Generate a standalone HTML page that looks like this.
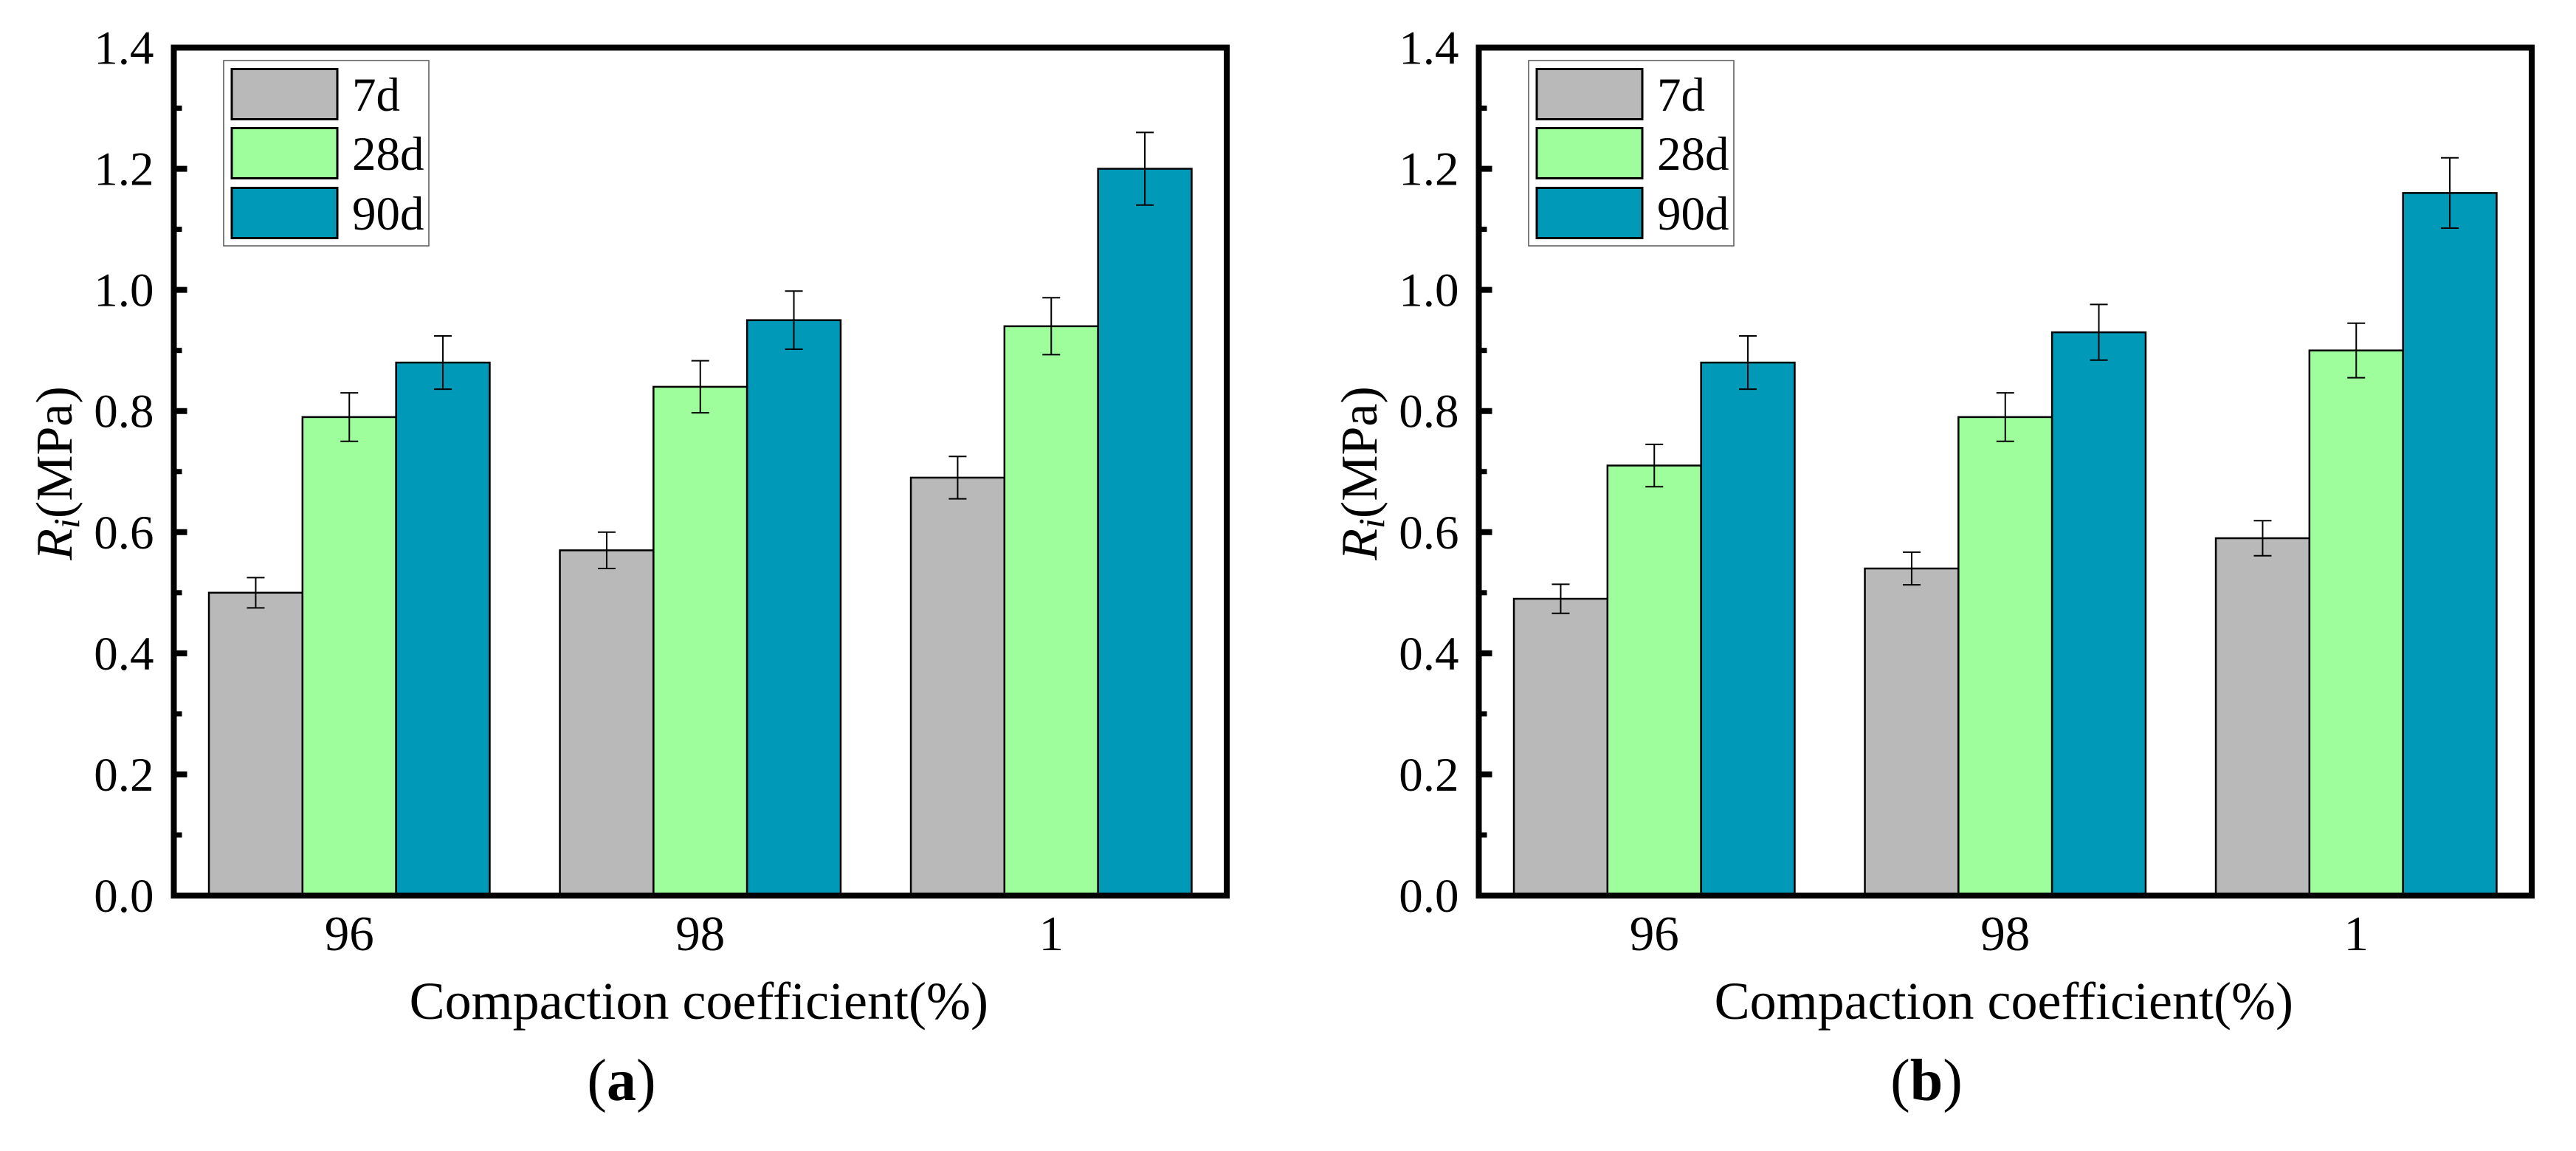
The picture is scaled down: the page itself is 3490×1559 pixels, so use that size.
<!DOCTYPE html>
<html><head><meta charset="utf-8">
<style>
html,body{margin:0;padding:0;background:#fff;}
svg{display:block;}
text{font-family:"Liberation Serif",serif;fill:#000;}
</style></head>
<body>
<svg id="chart" width="3490" height="1559" viewBox="0 0 3490 1559" xmlns="http://www.w3.org/2000/svg"></svg>
<script>
const categories = ["96", "98", "1"];
const seriesNames = ["7d", "28d", "90d"];
const seriesColors = ["#b9b9b9", "#9dfe9b", "#0099b8"];
const yTicks = [0.0, 0.2, 0.4, 0.6, 0.8, 1.0, 1.2, 1.4];
const yTickLabels = ["0.0", "0.2", "0.4", "0.6", "0.8", "1.0", "1.2", "1.4"];
const a7 = [0.50, 0.57, 0.69];
const a28 = [0.79, 0.84, 0.94];
const a90 = [0.88, 0.95, 1.20];
const a7err = [0.025, 0.03, 0.035];
const a28err = [0.04, 0.043, 0.047];
const a90err = [0.044, 0.048, 0.06];
const b7 = [0.49, 0.54, 0.59];
const b28 = [0.71, 0.79, 0.90];
const b90 = [0.88, 0.93, 1.16];
const b7err = [0.024, 0.027, 0.029];
const b28err = [0.035, 0.04, 0.045];
const b90err = [0.044, 0.046, 0.058];

const NS = "http://www.w3.org/2000/svg";
const svg = document.getElementById("chart");
function mk(tag, attrs, parent) {
  const e = document.createElementNS(NS, tag);
  for (const k in attrs) e.setAttribute(k, attrs[k]);
  (parent || svg).appendChild(e);
  return e;
}
const Y0 = 1213, Y1 = 64.5, YMAX = 1.4;
function yScale(v) { return Y0 - (v / YMAX) * (Y0 - Y1); }

function drawPanel(ox, label, vals, errs, panelName) {
  const g = mk("g", {});
  
  
  const L = 235.5 + ox, R = 1662 + ox;
  const band = (R - L) / categories.length;
  const bw = band * 0.8 / 3;
  function xCenter(i) { return L + band * (i + 0.5); }
  for (let s = 0; s < 3; s++) {
    for (let i = 0; i < categories.length; i++) {
      const v = vals[s][i];
      const x = xCenter(i) - 1.5 * bw + s * bw;
      const r = mk("rect", {x: x, y: yScale(v), width: bw, height: yScale(0) - yScale(v), fill: seriesColors[s], stroke: "#000", "stroke-width": 2.5}, g);
      
      
      const cx = x + bw / 2, e = errs[s][i];
      const eb = mk("path", {d: `M${cx} ${yScale(v+e)}V${yScale(v-e)}M${cx-12} ${yScale(v+e)}H${cx+12}M${cx-12} ${yScale(v-e)}H${cx+12}`, stroke: "#000", "stroke-width": 2, fill: "none"}, g);
      
      
    }
  }
  const fr = mk("rect", {x: L, y: Y1, width: R - L, height: Y0 - Y1, fill: "none", stroke: "#000", "stroke-width": 8}, g);
  
  
  for (let t = 0; t < yTicks.length; t++) {
    const y = yScale(yTicks[t]);
    const tk = mk("line", {x1: L, x2: L + 18, y1: y, y2: y, stroke: "#000", "stroke-width": 8}, g);
    
    
    if (t < yTicks.length - 1) {
      const ym = yScale((yTicks[t] + yTicks[t + 1]) / 2);
      const mt = mk("line", {x1: L, x2: L + 11, y1: ym, y2: ym, stroke: "#000", "stroke-width": 7}, g);
      
      
    }
    const tl = mk("text", {x: L - 27, y: y + 22, "text-anchor": "end", "font-size": 65}, g);
    tl.textContent = yTickLabels[t];
    
    
  }
  for (let i = 0; i < categories.length; i++) {
    const xl = mk("text", {x: xCenter(i), y: 1287, "text-anchor": "middle", "font-size": 67}, g);
    xl.textContent = categories[i];
    
    
  }
  const xt = mk("text", {x: (L + R) / 2 - 2, y: 1380, "text-anchor": "middle", "font-size": 72}, g);
  xt.textContent = "Compaction coefficient(%)";
  
  
  const yt = mk("text", {x: 0, y: 0, "text-anchor": "middle", "font-size": 70, transform: `translate(${97 + ox},641) rotate(-90)`}, g);
  yt.innerHTML = '<tspan font-style="italic">R<tspan font-size="50" dy="10">i</tspan></tspan><tspan dy="-10">(MPa)</tspan>';
  
  
  const pl = mk("text", {x: 842 + ox, y: 1490, "text-anchor": "middle", "font-size": 80}, g);
  pl.innerHTML = '(<tspan font-weight="bold">' + label + '</tspan>)';
  
  
  const lg = mk("g", {}, g);
  
  
  mk("rect", {x: 303 + ox, y: 82, width: 278, height: 251, fill: "#fff", stroke: "#555", "stroke-width": 1.5}, lg);
  const sy = [92, 172, 253];
  for (let s = 0; s < 3; s++) {
    const en = mk("g", {}, lg);
    
    
    mk("rect", {x: 314 + ox, y: sy[s] + 1.5, width: 143, height: 68, fill: seriesColors[s], stroke: "#000", "stroke-width": 3}, en);
    const lt = mk("text", {x: 477 + ox, y: sy[s] + 58, "font-size": 65}, en);
    lt.textContent = seriesNames[s];
  }
}
drawPanel(0, "a", [a7, a28, a90], [a7err, a28err, a90err], "panel-a");
drawPanel(1768, "b", [b7, b28, b90], [b7err, b28err, b90err], "panel-b");
</script>
</body></html>
